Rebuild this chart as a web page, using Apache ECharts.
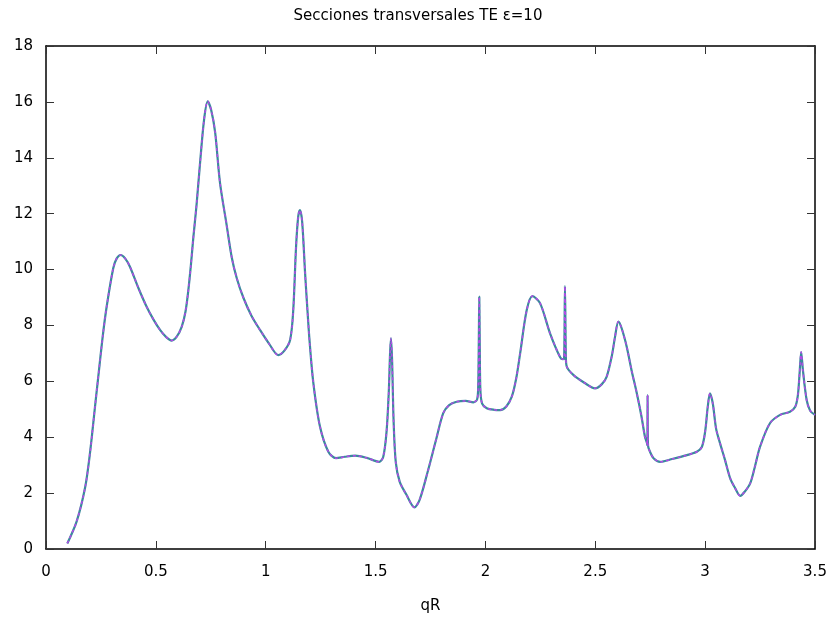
<!DOCTYPE html>
<html><head><meta charset="utf-8">
<script src="https://cdn.jsdelivr.net/npm/echarts@6/dist/echarts.min.js"></script>
<style>html,body{margin:0;padding:0;background:#fff}#c{width:836px;height:619px}</style>
</head><body><div id="c"></div>
<script>
const titleText = "Secciones transversales TE \u03b5=10";
const xName = "qR";
const qR = [0.097,0.14,0.178,0.2,0.223,0.238,0.258,0.276,0.306,0.322,0.34,0.36,0.382,0.42,0.458,0.49,0.519,0.545,0.572,0.595,0.618,0.635,0.648,0.66,0.67,0.685,0.701,0.72,0.736,0.752,0.77,0.792,0.822,0.845,0.868,0.898,0.935,0.974,1.015,1.057,1.085,1.111,1.125,1.138,1.148,1.156,1.166,1.179,1.187,1.2,1.217,1.247,1.285,1.32,1.36,1.407,1.46,1.517,1.535,1.55,1.56,1.566,1.570,1.575,1.582,1.592,1.61,1.64,1.677,1.70,1.735,1.775,1.808,1.835,1.869,1.91,1.945,1.962,1.967,1.970,1.972,1.974,1.977,1.985,2.006,2.04,2.067,2.095,2.12,2.14,2.158,2.188,2.214,2.249,2.294,2.34,2.352,2.358,2.362,2.366,2.370,2.4,2.45,2.499,2.53,2.552,2.575,2.59,2.605,2.62,2.643,2.665,2.689,2.71,2.726,2.735,2.737,2.738,2.740,2.749,2.765,2.795,2.85,2.917,2.962,2.985,3.0,3.012,3.022,3.035,3.05,3.068,3.09,3.114,3.135,3.16,3.18,3.205,3.225,3.25,3.295,3.341,3.386,3.41,3.422,3.43,3.437,3.445,3.462,3.478,3.5];
const sigma = [0.2,1.0,2.2,3.42,5.09,6.17,7.6,8.67,10.05,10.4,10.52,10.4,10.1,9.35,8.67,8.2,7.84,7.6,7.46,7.6,7.96,8.5,9.27,10.2,11.1,12.3,13.8,15.4,16.02,15.7,14.9,13.1,11.6,10.45,9.7,9.0,8.35,7.84,7.35,6.94,7.1,7.48,8.5,10.8,11.9,12.13,11.7,9.9,8.9,7.4,5.93,4.38,3.48,3.25,3.3,3.34,3.26,3.12,3.3,4.2,5.6,7.0,7.54,6.8,4.6,3.1,2.4,1.95,1.49,1.75,2.7,3.9,4.86,5.15,5.27,5.3,5.25,5.35,5.8,7.5,9.03,7.5,5.7,5.2,5.04,4.98,4.97,5.1,5.45,6.1,7.0,8.55,9.05,8.79,7.72,6.86,6.79,6.8,9.41,6.9,6.53,6.23,5.95,5.75,5.9,6.17,6.9,7.6,8.14,7.9,7.24,6.4,5.57,4.75,4.02,3.8,3.72,5.51,3.7,3.48,3.25,3.12,3.22,3.36,3.48,3.65,4.2,5.1,5.57,5.2,4.3,3.78,3.2,2.53,2.2,1.9,2.05,2.35,2.9,3.66,4.5,4.8,4.91,5.09,5.5,6.3,7.05,6.4,5.33,4.95,4.8];
const xTicks = [0,0.5,1,1.5,2,2.5,3,3.5];
const yTicks = [0,2,4,6,8,10,12,14,16,18];

const pts = qR.map((x,i)=>[x,sigma[i]]);
const font = "DejaVu Sans";
const chart = echarts.init(document.getElementById('c'), null, {renderer:'canvas'});
const axisCommon = {
  axisLine:{show:true,onZero:false,lineStyle:{color:'#000',width:1.5}},
  axisTick:{show:true,inside:true,length:8,lineStyle:{color:'#333',width:1}},
  splitLine:{show:false}
};
chart.setOption({
  animation:false,
  backgroundColor:'#fff',
  title:{text:titleText,left:'center',top:4,textStyle:{fontFamily:font,fontSize:15,fontWeight:'normal',color:'#000'}},
  grid:{left:46,right:21,top:46,bottom:70},
  xAxis:[
    Object.assign({type:'value',min:0,max:3.5,interval:0.5,position:'bottom',
      name:xName,nameLocation:'middle',nameGap:50,nameTextStyle:{fontFamily:font,fontSize:15,color:'#000'},
      axisLabel:{fontFamily:font,fontSize:15,color:'#000',margin:16,formatter:v=>String(v)}},axisCommon),
    Object.assign({type:'value',min:0,max:3.5,interval:0.5,position:'top',axisLabel:{show:false}},axisCommon)
  ],
  yAxis:[
    Object.assign({type:'value',min:0,max:18,interval:2,position:'left',
      axisLabel:{fontFamily:font,fontSize:15,color:'#000',margin:13}},axisCommon),
    Object.assign({type:'value',min:0,max:18,interval:2,position:'right',axisLabel:{show:false}},axisCommon)
  ],
  series:[
    {type:'line',data:pts,showSymbol:false,symbol:'none',smooth:0.3,lineStyle:{color:'#3a8a9c',width:2.2},z:2},
    {type:'line',data:pts,showSymbol:false,symbol:'none',smooth:0.3,lineStyle:{color:'#b548e8',width:1.5,type:[3,3]},z:3}
  ]
});
</script></body></html>
